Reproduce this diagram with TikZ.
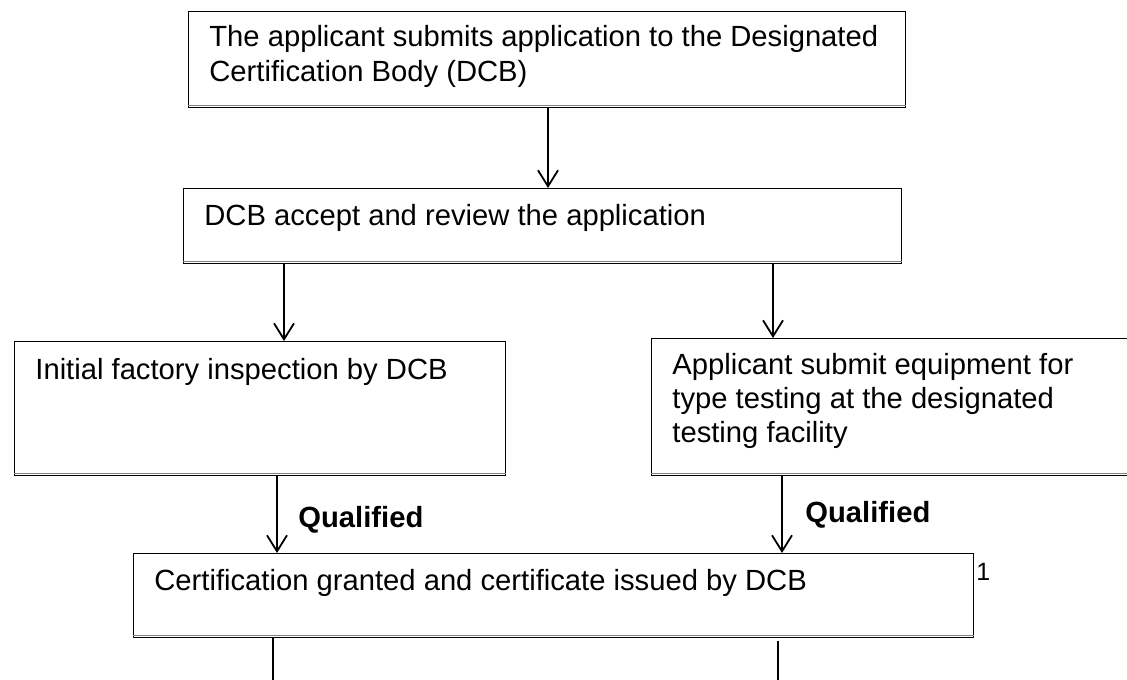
\documentclass[tikz,border=0pt]{standalone}
\usepackage{fontspec}
\setmainfont{Liberation Sans}
\usetikzlibrary{arrows.meta,calc}

\begin{document}
\begin{tikzpicture}[x=0.5pt,y=-0.5pt,
  box/.style={draw,line width=0.6pt,anchor=north west,inner sep=0pt},
  txt/.style={anchor=base west,inner sep=0pt,align=left,font=\fontsize{14.6}{17.5}\selectfont},
  lbl/.style={anchor=base west,inner sep=0pt,font=\fontsize{14.6}{17.5}\selectfont\bfseries},
  arr/.style={line width=0.9pt,-{Straight Barb[length=8pt,width=10pt]}},
  ln/.style={line width=0.9pt}]
\useasboundingbox (0,0) rectangle (1127,679);

\node[box,minimum width=358.5pt,minimum height=48pt] (b1) at (188,11) {};
\node[box,minimum width=359pt,minimum height=37.5pt] (b2) at (183,188) {};
\node[box,minimum width=245.5pt,minimum height=67pt] (b3) at (14,341) {};
\node[box,minimum width=244.5pt,minimum height=68.5pt] (b4) at (651,338) {};
\node[box,minimum width=420pt,minimum height=42pt] (b5) at (133,553) {};
\foreach \b in {b1,b2,b3,b4,b5}
  \draw[gray,line width=0.6pt] ([yshift=1.2pt]\b.south west) -- ([yshift=1.2pt]\b.south east);

% base anchor = baseline of the last line
\node[txt] (t1) at (209,82) {The applicant submits application to the Designated\\Certification Body (DCB)};
\node[txt] (t2) at (204,225) {DCB accept and review the application};
\node[txt] (t3) at (35,379) {Initial factory inspection by DCB};
\node[txt,font=\fontsize{14.6}{16.8}\selectfont] (t4) at (672,442) {Applicant submit equipment for\\type testing at the designated\\testing facility};
\node[txt] (t5) at (154,590) {Certification granted and certificate issued by DCB};
\node[anchor=base west,inner sep=0pt,font=\fontsize{12.5}{14}\selectfont] (n1) at (976,580) {1};

\node[lbl] (q1) at (298,527) {Qualified};
\node[lbl] (q2) at (805,522) {Qualified};

\coordinate (e1) at (273,690);
\coordinate (e2) at (778,690);

\draw[arr] ($(b1.south west)+(360,0)$) -- ($(b2.north west)+(365,0)$);
\draw[arr] ($(b2.south west)+(101,0)$) -- ($(b3.north west)+(270,0)$);
\draw[arr] ($(b2.south west)+(590,0)$) -- ($(b4.north west)+(122,0)$);
\draw[arr] ($(b3.south west)+(263,0)$) -- ($(b5.north west)+(144,0)$);
\draw[arr] ($(b4.south west)+(131,0)$) -- ($(b5.north west)+(649,0)$);
\draw[ln] ($(b5.south west)+(140,0)$) -- (e1);
\draw[ln] ($(b5.south west)+(645,3)$) -- (e2);
\end{tikzpicture}
\end{document}
